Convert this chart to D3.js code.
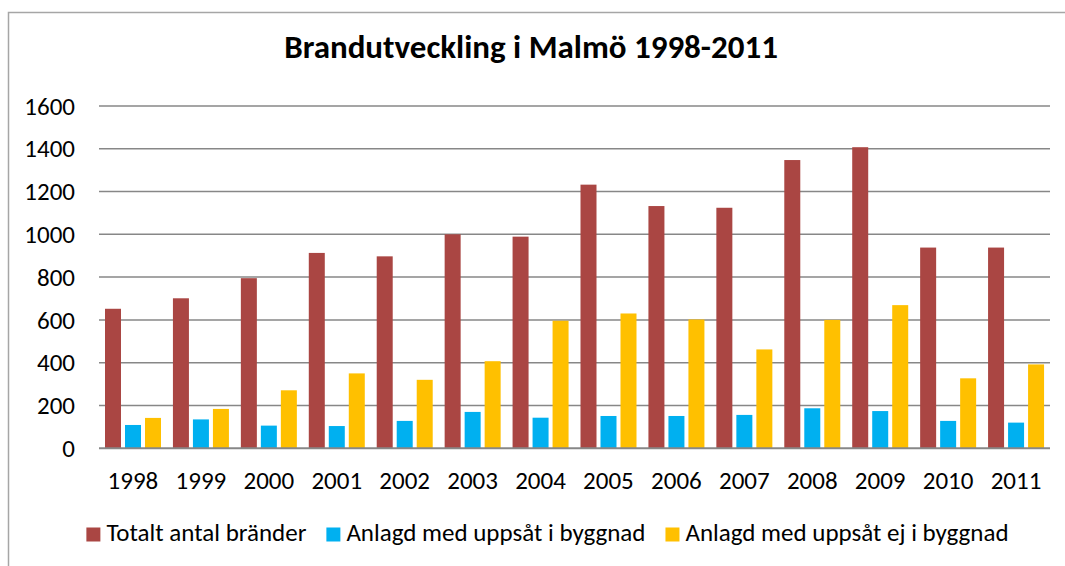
<!DOCTYPE html>
<html><head><meta charset="utf-8">
<script src="https://cdn.jsdelivr.net/npm/d3@7"></script>
<style>html,body{margin:0;padding:0;background:#fff;}svg{display:block;}</style>
</head><body>
<svg id="c" width="1065" height="566"></svg>
<script>
const title = "Brandutveckling i Malmö 1998-2011";
const years = ["1998","1999","2000","2001","2002","2003","2004","2005","2006","2007","2008","2009","2010","2011"];
const seriesNames = ["Totalt antal bränder","Anlagd med uppsåt i byggnad","Anlagd med uppsåt ej i byggnad"];
const totalt = [652,701,795,913,897,1000,989,1232,1132,1124,1347,1407,938,938];
const iByggnad = [109,135,106,104,128,170,143,151,151,156,187,174,128,120];
const ejByggnad = [142,184,271,350,320,407,596,630,602,462,600,669,327,392];
const yTicks = [0,200,400,600,800,1000,1200,1400,1600];
const colors = ["#AA4643","#00B0F0","#FFC000"];

const FONT = "Carlito, Calibri, Lato, sans-serif";
const svg = d3.select("#c");

// frame
svg.append("path").attr("d","M8.5,566 L8.5,12.5 L1065,12.5").attr("fill","none").attr("stroke","#a6a6a6").attr("stroke-width",1.5);

const x0 = d3.scaleBand().domain(years).range([99,1050]).padding(0);
const x1 = d3.scaleBand().domain(d3.range(3)).range([6,62]).paddingInner(0.2).paddingOuter(0);
const y = d3.scaleLinear().domain([0,1600]).range([448.3,105.9]);

// gridlines
svg.append("g").selectAll("line").data(yTicks.filter(d=>d>0)).join("line")
  .attr("x1",99).attr("x2",1050).attr("y1",d=>y(d)).attr("y2",d=>y(d))
  .attr("stroke","#878787").attr("stroke-width",1.5);

// y labels
svg.append("g").selectAll("text").data(yTicks).join("text")
  .attr("x",75).attr("y",d=>y(d)).attr("dy","0.35em").attr("text-anchor","end")
  .attr("font-family",FONT).attr("font-size",25).attr("fill","#000").text(d=>d);

// bars
const data = [totalt,iByggnad,ejByggnad];
const g = svg.append("g");
years.forEach((yr,i)=>{
  data.forEach((s,k)=>{
    g.append("rect").attr("x",x0(yr)+x1(k)).attr("width",x1.bandwidth())
      .attr("y",y(s[i])).attr("height",y(0)-y(s[i])).attr("fill",colors[k]);
  });
});

// baseline axis
svg.append("line").attr("x1",99).attr("x2",1050).attr("y1",y(0)).attr("y2",y(0))
  .attr("stroke","#878787").attr("stroke-width",2);

// x labels
svg.append("g").selectAll("text").data(years).join("text")
  .attr("x",d=>x0(d)+x0.bandwidth()/2).attr("y",489).attr("text-anchor","middle")
  .attr("font-family",FONT).attr("font-size",25).attr("fill","#000").text(d=>d);

// title
svg.append("text").attr("x",531).attr("y",58).attr("text-anchor","middle")
  .attr("font-family",FONT).attr("font-weight","bold").attr("font-size",33).attr("fill","#000").text(title);

// legend
const lg = svg.append("g");
let cx = 0;
seriesNames.forEach((n,k)=>{
  const it = lg.append("g");
  it.append("rect").attr("x",0).attr("y",-13.5).attr("width",14).attr("height",14).attr("fill",colors[k]);
  const t = it.append("text").attr("x",20).attr("y",0).attr("font-family",FONT).attr("font-size",25).attr("fill","#000").text(n);
  const w = 20 + t.node().getComputedTextLength();
  it.attr("transform",`translate(${cx},0)`);
  cx += w + 20;
});
const total = cx - 20;
lg.attr("transform",`translate(${547.5 - total/2},541)`);
</script>
</body></html>
